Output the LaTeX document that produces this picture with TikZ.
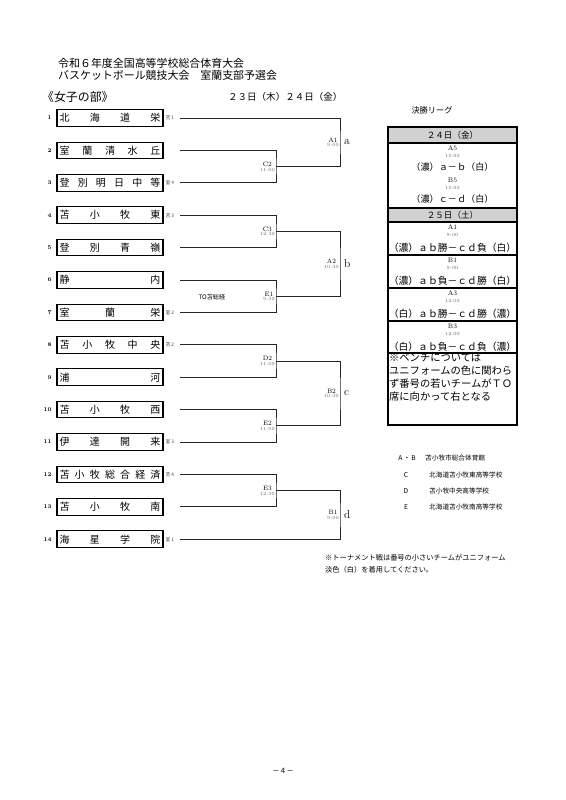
\documentclass[tikz,border=0pt]{standalone}
\usepackage{fontspec}
\newfontfamily\jp{Noto Sans CJK JP}
\usetikzlibrary{positioning, calc}
\definecolor{hdrgray}{gray}{0.82}
\newcommand{\fsz}[1]{\fontsize{#1}{#1}\selectfont}

\begin{document}
\begin{tikzpicture}[x=1.0512pt, y=-1.0512pt,
    % Define styles
    teambox/.style={rectangle, draw=black, line width=1.1pt, minimum width=111.4pt, minimum height=17.5pt, inner sep=2pt, font=\jp\fsz{10.5}},
    numlabel/.style={inner sep=0pt, font=\bfseries\fsz{6}},
    seedlabel/.style={inner sep=0pt, font=\jp\fsz{5}, text=black!75},
    bracket/.style={draw=black!85, line width=0.9pt},
    matchlabel/.style={align=center, inner sep=1pt, font=\fsz{6.8}},
    grouplabel/.style={inner sep=0pt, font=\fsz{12}},
    jptext/.style={inner sep=0pt, anchor=west, font=\jp\fsz{#1}},
    celltext/.style={inner sep=0pt, font=\jp\fsz{#1}},
    cellid/.style={inner sep=0pt, font=\fsz{7}},
    celltime/.style={inner sep=0pt, font=\fsz{5}, text=black!60},
    tablerule/.style={line width=1.1pt},
    tableframe/.style={line width=1.5pt}
]
    \useasboundingbox (0,0) rectangle (566,800);

    % 1. Heading
    \node[jptext=11.5] (title1) at (58,63) {令和６年度全国高等学校総合体育大会};
    \node[jptext=11.5] (title2) at (58,75) {バスケットボール競技大会　室蘭支部予選会};
    \node[jptext=12.5] (division) at (42,97) {《女子の部》};
    \node[jptext=10] (dates) at (228,97) {２３日（木）２４日（金）};

    % 2. Teams
    \foreach \i/\nm/\sd in {
        1/{北\hfill 海\hfill 道\hfill 栄}/苫 1,
        2/{室\hfill 蘭\hfill 清\hfill 水\hfill 丘}/,
        3/{登\hfill 別\hfill 明\hfill 日\hfill 中\hfill 等}/室 4,
        4/{苫\hfill 小\hfill 牧\hfill 東}/苫 3,
        5/{登\hfill 別\hfill 青\hfill 嶺}/,
        6/{静\hfill 内}/,
        7/{室\hfill 蘭\hfill 栄}/室 2,
        8/{苫\hfill 小\hfill 牧\hfill 中\hfill 央}/苫 2,
        9/{浦\hfill 河}/,
        10/{苫\hfill 小\hfill 牧\hfill 西}/,
        11/{伊\hfill 達\hfill 開\hfill 来}/室 3,
        12/{苫\hfill 小\hfill 牧\hfill 総\hfill 合\hfill 経\hfill 済}/苫 4,
        13/{苫\hfill 小\hfill 牧\hfill 南}/,
        14/{海\hfill 星\hfill 学\hfill 院}/室 1} {
        \pgfmathsetmacro\ty{118+(\i-1)*32.4}
        \node[teambox] (t\i) at (110,\ty) {\makebox[106pt][s]{\nm}};
        \node[numlabel, left=5pt of t\i] (n\i) {\i};
        \node[seedlabel, right=2pt of t\i] (s\i) {\sd};
        \coordinate (p\i) at (180,\ty);
    }

    % 3. Match points
    \coordinate (c2) at (276,166.6);
    \coordinate (c3) at (276,231.4);
    \coordinate (e1) at (276,296.2);
    \coordinate (d2) at (276,361);
    \coordinate (e2) at (276,425.8);
    \coordinate (e3) at (276,490.6);
    \coordinate (a1) at (340,142.3);
    \coordinate (a2) at (340,263.8);
    \coordinate (b2) at (340,393.4);
    \coordinate (b1) at (340,514.9);

    % first round
    \draw[bracket] (p2) -| (c2) |- (p3);
    \draw[bracket] (p4) -| (c3) |- (p5);
    \draw[bracket] (p6) -| (e1) |- (p7);
    \draw[bracket] (p8) -| (d2) |- (p9);
    \draw[bracket] (p10) -| (e2) |- (p11);
    \draw[bracket] (p12) -| (e3) |- (p13);

    % second round
    \draw[bracket] (p1) -| (a1) |- (c2);
    \draw[bracket] (c3) -| (a2) |- (e1);
    \draw[bracket] (d2) -| (b2) |- (e2);
    \draw[bracket] (e3) -| (b1) |- (p14);

    % match labels
    \foreach \m/\id/\tm in {c2/C2/11:00, c3/C3/12:30, e1/E1/9:30, d2/D2/11:00, e2/E2/11:00, e3/E3/12:30,
                            a1/A1/9:00, a2/A2/10:30, b2/B2/10:30, b1/B1/9:00}
        \node[matchlabel, left] (l\m) at (\m) {\id\\[-2pt]\textcolor{black!60}{\fsz{5}\tm}};
    \node[grouplabel, right=4pt of a1] (ga) {a};
    \node[grouplabel, right=4pt of a2] (gb) {b};
    \node[grouplabel, right=4pt of b2] (gc) {c};
    \node[grouplabel, right=4pt of b1] (gd) {d};
    \node[celltext=6.5] (tonote) at (212,297) {TO苫総経};

    % 4. Final league table
    \node[celltext=8.6] (league) at (432,110) {決勝リーグ};
    \fill[hdrgray] (388,127) rectangle (517,143);
    \fill[hdrgray] (388,208) rectangle (517,222);
    \foreach \ry in {143,208,222,255,288,321,353}
        \draw[tablerule] (388,\ry) -- (517,\ry);
    \draw[tableframe] (388,127) rectangle (517,425);

    \node[celltext=9] (day1) at (452.5,135) {２４日（金）};
    \node[cellid] (fa5) at (452.5,148) {A5};
    \node[celltime] (fa5t) at (452.5,155.5) {15:00};
    \node[celltext=9.6] (fa5r) at (452.5,167) {（濃）ａ－ｂ（白）};
    \node[cellid] (fb5) at (452.5,180) {B5};
    \node[celltime] (fb5t) at (452.5,187.5) {15:00};
    \node[celltext=9.6] (fb5r) at (452.5,199) {（濃）ｃ－ｄ（白）};
    \node[celltext=9] (day2) at (452.5,215) {２５日（土）};
    \foreach \ry/\id/\tm/\res in {
        222/A1/9:00/{（濃）ａｂ勝－ｃｄ負（白）},
        255/B1/9:00/{（濃）ａｂ負－ｃｄ勝（白）},
        288/A3/12:00/{（白）ａｂ勝－ｃｄ勝（濃）},
        321/B3/12:00/{（白）ａｂ負－ｃｄ負（濃）}} {
        \node[cellid] (f\id) at (452.5,\ry+5) {\id};
        \node[celltime] (f\id t) at (452.5,\ry+13) {\tm};
        \node[celltext=10.3] (f\id r) at (452.5,\ry+25.5) {\res};
    }
    \node[jptext=10.8] (bench1) at (389,358) {※ベンチについては};
    \node[jptext=10.8] (bench2) at (389,371) {ユニフォームの色に関わら};
    \node[jptext=10.8] (bench3) at (389,384) {ず番号の若いチームがＴＯ};
    \node[jptext=10.8] (bench4) at (389,397) {席に向かって右となる};

    % 5. Venues
    \node[celltext=7] (keyab) at (407,458) {A\,・\,B};
    \node[jptext=7] (venueab) at (425,458) {苫小牧市総合体育館};
    \node[celltext=7] (keyc) at (406,475) {C};
    \node[jptext=7] (venuec) at (429,475) {北海道苫小牧東高等学校};
    \node[celltext=7] (keyd) at (406,491) {D};
    \node[jptext=7] (venued) at (429,491) {苫小牧中央高等学校};
    \node[celltext=7] (keye) at (406,507) {E};
    \node[jptext=7] (venuee) at (429,507) {北海道苫小牧南高等学校};

    % 6. Notes
    \node[jptext=7.6] (uniform1) at (325,558) {※トーナメント戦は番号の小さいチームがユニフォーム};
    \node[jptext=7.6] (uniform2) at (325,570) {淡色（白）を着用してください。};
    \node[celltext=7.5] (page) at (283,771) {－４－};

\end{tikzpicture}
\end{document}
